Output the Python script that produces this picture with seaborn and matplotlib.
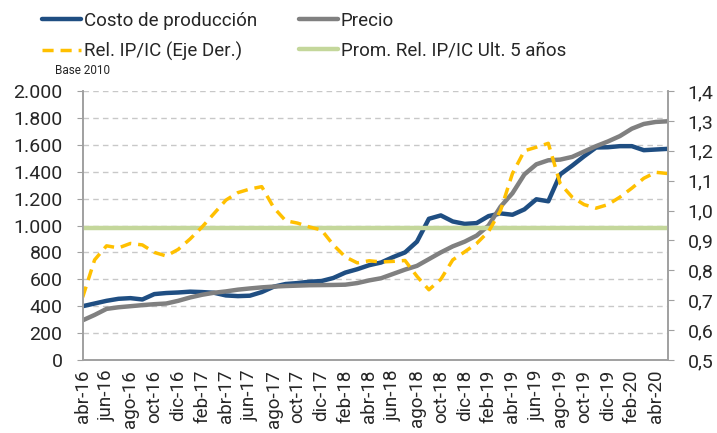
import numpy as np
import pandas as pd
import seaborn as sns
import matplotlib.pyplot as plt
from matplotlib.ticker import FuncFormatter, MultipleLocator

# datos mensuales abr-16 .. may-20
meses = pd.date_range('2016-04-01', periods=50, freq='MS')
nombres_mes = ['ene', 'feb', 'mar', 'abr', 'may', 'jun', 'jul', 'ago', 'sep', 'oct', 'nov', 'dic']
etiquetas = [f'{nombres_mes[m.month - 1]}-{str(m.year)[2:]}' for m in meses]

costo = [400, 420, 440, 455, 460, 450, 490, 498, 502, 508,
         505, 500, 480, 475, 478, 505, 545, 565, 572, 582,
         587, 610, 650, 675, 705, 725, 765, 800, 880, 1050,
         1075, 1030, 1012, 1018, 1070, 1090, 1080, 1120, 1195, 1180,
         1380, 1445, 1515, 1580, 1582, 1590, 1590, 1560, 1565, 1570]
precio = [295, 335, 380, 392, 400, 408, 415, 420, 440, 465,
          485, 500, 510, 523, 532, 540, 546, 550, 553, 556,
          557, 558, 560, 572, 592, 608, 640, 672, 700, 750,
          800, 845, 880, 925, 1000, 1140, 1240, 1380, 1455, 1485,
          1490, 1510, 1550, 1590, 1625, 1665, 1720, 1755, 1770, 1775]
rel_ip_ic = [0.71, 0.835, 0.882, 0.875, 0.89, 0.885, 0.86, 0.848, 0.87, 0.905,
             0.945, 0.99, 1.035, 1.06, 1.072, 1.08, 1.01, 0.966, 0.958, 0.945,
             0.935, 0.885, 0.845, 0.825, 0.832, 0.828, 0.83, 0.833, 0.78, 0.735,
             0.77, 0.835, 0.862, 0.89, 0.93, 1.0, 1.124, 1.20, 1.212, 1.225,
             1.09, 1.045, 1.02, 1.008, 1.02, 1.045, 1.075, 1.108, 1.128, 1.124]
prom_5 = 0.942

df = pd.DataFrame({'idx': np.arange(len(meses)), 'costo': costo, 'precio': precio,
                   'rel': rel_ip_ic, 'prom': [prom_5] * len(meses)})

sns.set_style('white')
plt.rcParams['font.family'] = ['Roboto', 'DejaVu Sans']

fig = plt.figure(figsize=(7.17, 4.33), dpi=100)
ax = fig.add_axes([0.1153, 0.1686, 0.8159, 0.6212])
ax2 = ax.twinx()

azul = '#1F4E82'
gris = '#808080'
amarillo = '#FFC000'
verde = '#C4D79B'

sns.lineplot(data=df, x='idx', y='costo', ax=ax, color=azul, linewidth=3.2, label='Costo de producción', legend=False)
sns.lineplot(data=df, x='idx', y='precio', ax=ax, color=gris, linewidth=3.2, label='Precio', legend=False)
sns.lineplot(data=df, x='idx', y='prom', ax=ax2, color=verde, linewidth=3.2, label='Prom. Rel. IP/IC Ult. 5 años', legend=False)
sns.lineplot(data=df, x='idx', y='rel', ax=ax2, color=amarillo, linewidth=2.5, label='Rel. IP/IC (Eje Der.)', legend=False)
ax2.lines[-1].set_dashes([3.2, 2])

ax.set_xlim(0, len(meses) - 1)
ax.set_ylim(0, 2000)
ax2.set_ylim(0.5, 1.4)
ax.yaxis.set_major_locator(MultipleLocator(200))
ax2.yaxis.set_major_locator(MultipleLocator(0.1))
ax.yaxis.set_major_formatter(FuncFormatter(lambda v, p: f'{int(v):,}'.replace(',', '.')))
ax2.yaxis.set_major_formatter(FuncFormatter(lambda v, p: f'{v:.1f}'.replace('.', ',')))

ax.set_xticks(df['idx'][::2])
ax.set_xticklabels(etiquetas[::2], rotation=90, fontsize=13.5)
ax.tick_params(axis='x', length=5, color='#A0A0A0', pad=2)
ax.tick_params(axis='y', length=4.5, color='#A0A0A0', labelsize=14, pad=10)
ax2.tick_params(axis='y', length=4.5, color='#A0A0A0', labelsize=14, pad=10)
ax.set_xlabel('')
ax.set_ylabel('')
ax2.set_ylabel('')

ax.yaxis.grid(True, linestyle=(0, (4, 3)), color='#C8C8C8', linewidth=1)
ax.set_axisbelow(True)
for a in (ax, ax2):
    a.spines['top'].set_visible(False)
    for s in ('left', 'right', 'bottom'):
        a.spines[s].set_color('#A0A0A0')
        a.spines[s].set_linewidth(1.2)

h1, l1 = ax.get_legend_handles_labels()
h2, l2 = ax2.get_legend_handles_labels()
handles = [h1[0], h2[1], h1[1], h2[0]]
labels = [l1[0], l2[1], l1[1], l2[0]]
fig.legend(handles, labels, ncol=2, loc='upper left', bbox_to_anchor=(0.035, 1.012),
           frameon=False, fontsize=13.5, handlelength=2.1,
           handletextpad=0.15, columnspacing=2.2, labelspacing=0.65)

fig.text(0.077, 0.838, 'Base 2010', fontsize=8.5, ha='left', va='center')

fig.savefig('out.png', dpi=100)
